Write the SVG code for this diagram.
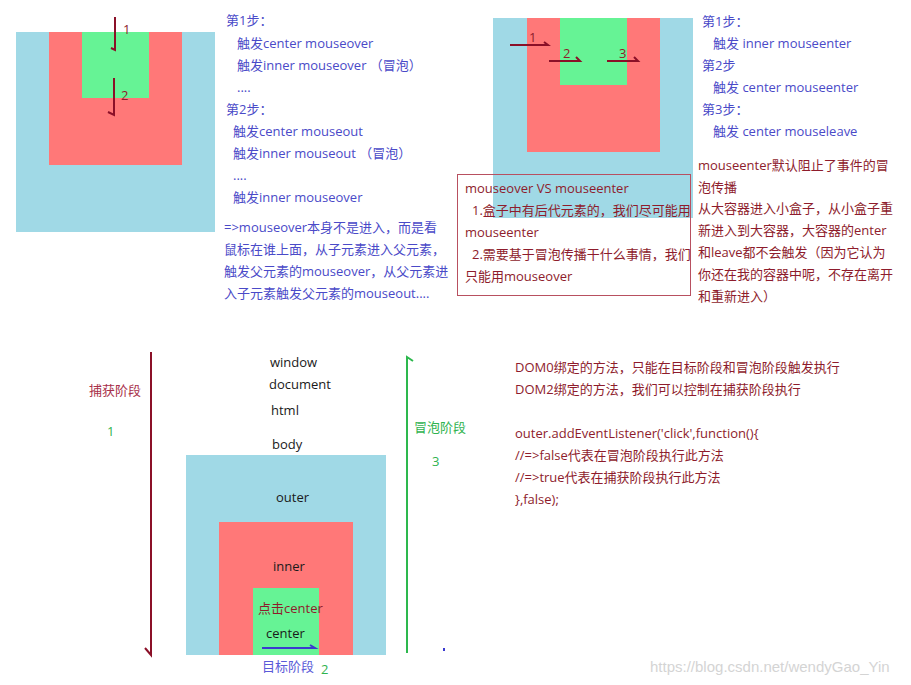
<svg xmlns="http://www.w3.org/2000/svg" width="911" height="685" viewBox="0 0 911 685">
<style>
text{font-family:"Open Sans","Noto Sans CJK SC",sans-serif;font-size:13px}
.b{fill:#4a4ac8}
.r{fill:#8e1c2c}
.k{fill:#1a1a1a}
.g{fill:#2fb34f}
.blue{fill:#a0d9e6}
.red{fill:#ff7878}
.green{fill:#66f395}
.ar{fill:none;stroke:#8b1028;stroke-width:2}
</style>
<rect width="911" height="685" fill="#fff"/>

<g id="tl-boxes">
<rect class="blue" x="16" y="32" width="199" height="200"/>
<rect class="red" x="49" y="32" width="133" height="133"/>
<rect class="green" x="82" y="32" width="67" height="66"/>
</g>
<g id="tl-text">
<text class="b" x="226" y="25">第1步：</text>
<text class="b" x="237" y="48">触发center mouseover</text>
<text class="b" x="237" y="70">触发inner mouseover （冒泡）</text>
<text class="b" x="237" y="92">....</text>
<text class="b" x="226" y="114">第2步：</text>
<text class="b" x="233" y="136">触发center mouseout</text>
<text class="b" x="233" y="158">触发inner mouseout （冒泡）</text>
<text class="b" x="233" y="180">....</text>
<text class="b" x="233" y="202">触发inner mouseover</text>
<text class="b" x="224" y="232">=&gt;mouseover本身不是进入，而是看</text>
<text class="b" x="224" y="254">鼠标在谁上面，从子元素进入父元素，</text>
<text class="b" x="224" y="276">触发父元素的mouseover，从父元素进</text>
<text class="b" x="224" y="298">入子元素触发父元素的mouseout....</text>
</g>

<g id="tr-boxes">
<rect class="blue" x="493" y="18" width="200" height="200"/>
<rect class="red" x="527" y="18" width="133" height="134"/>
<rect class="green" x="560" y="18" width="67" height="67"/>
</g>
<g id="tr-note">
<rect x="457.5" y="174.5" width="233" height="121" fill="none" stroke="#b85060" stroke-width="1"/>
<text class="r" x="465" y="193">mouseover VS mouseenter</text>
<text class="r" x="472" y="215">1.盒子中有后代元素的，我们尽可能用</text>
<text class="r" x="465" y="237">mouseenter</text>
<text class="r" x="472" y="259">2.需要基于冒泡传播干什么事情，我们</text>
<text class="r" x="465" y="281">只能用mouseover</text>
</g>
<g id="tr-text">
<text class="b" x="702" y="26">第1步：</text>
<text class="b" x="713" y="48">触发 inner mouseenter</text>
<text class="b" x="702" y="70">第2步</text>
<text class="b" x="713" y="92">触发 center mouseenter</text>
<text class="b" x="702" y="114">第3步：</text>
<text class="b" x="713" y="136">触发 center mouseleave</text>
<text class="r" x="698" y="170">mouseenter默认阻止了事件的冒</text>
<text class="r" x="698" y="192">泡传播</text>
<text class="r" x="698" y="213">从大容器进入小盒子，从小盒子重</text>
<text class="r" x="698" y="235">新进入到大容器，大容器的enter</text>
<text class="r" x="698" y="257">和leave都不会触发（因为它认为</text>
<text class="r" x="698" y="279">你还在我的容器中呢，不存在离开</text>
<text class="r" x="698" y="301">和重新进入）</text>
</g>

<g id="capture">
<text x="89" y="395" fill="#a8304a">捕获阶段</text>
<text class="g" x="107" y="436">1</text>
</g>
<g id="bubble">
<text class="g" x="414" y="432">冒泡阶段</text>
<text class="g" x="432" y="466">3</text>
</g>
<g id="dom">
<text class="k" x="270" y="367">window</text>
<text class="k" x="269" y="389">document</text>
<text class="k" x="271" y="415">html</text>
<text class="k" x="272" y="449">body</text>
</g>
<g id="outer">
<rect class="blue" x="186" y="455" width="200" height="200"/>
<text class="k" x="276" y="502">outer</text>
</g>
<g id="inner">
<rect class="red" x="219" y="522" width="134" height="133"/>
<text class="k" x="273" y="571">inner</text>
</g>
<g id="center">
<rect class="green" x="253" y="588" width="66" height="67"/>
<text class="r" x="258" y="613">点击center</text>
<text class="k" x="266" y="638">center</text>
</g>
<g id="target">
<text x="262" y="671" fill="#5a5ad8">目标阶段</text>
<text class="g" x="321" y="674">2</text>
</g>

<g id="code">
<text class="r" x="515" y="372">DOM0绑定的方法，只能在目标阶段和冒泡阶段触发执行</text>
<text class="r" x="515" y="394">DOM2绑定的方法，我们可以控制在捕获阶段执行</text>
<text class="r" x="515" y="438">outer.addEventListener('click',function(){</text>
<text class="r" x="515" y="460">//=&gt;false代表在冒泡阶段执行此方法</text>
<text class="r" x="515" y="482">//=&gt;true代表在捕获阶段执行此方法</text>
<text class="r" x="515" y="504">},false);</text>
</g>

<g id="connectors">
<polyline class="ar" points="115,17 115,50 111,48"/>
<polyline class="ar" points="114,78 114,115 108,112"/>
<text class="r" x="123" y="34">1</text>
<text class="r" x="121" y="100">2</text>
<polyline class="ar" points="510,45 548,45 544,42"/>
<polyline class="ar" points="549,61 580,61 576,57"/>
<polyline class="ar" points="607,61 638,61 634,57"/>
<text class="r" x="529" y="42">1</text>
<text class="r" x="563" y="58">2</text>
<text class="r" x="619" y="58">3</text>
<polyline points="151,352 151,655 145,648" fill="none" stroke="#8b1028" stroke-width="2"/>
<polyline points="407,653 407,357 413,361" fill="none" stroke="#2db84e" stroke-width="2"/>
<polyline points="262,648 315,648 310,645" fill="none" stroke="#3a3ad0" stroke-width="2"/>
<rect x="443" y="648" width="2" height="3" fill="#3a3ad0"/>
</g>
<text x="650" y="672" fill="#d4d4d4" style="font-family:'Liberation Sans',sans-serif;font-size:15px">https://blog.csdn.net/wendyGao_Yin</text>
</svg>
